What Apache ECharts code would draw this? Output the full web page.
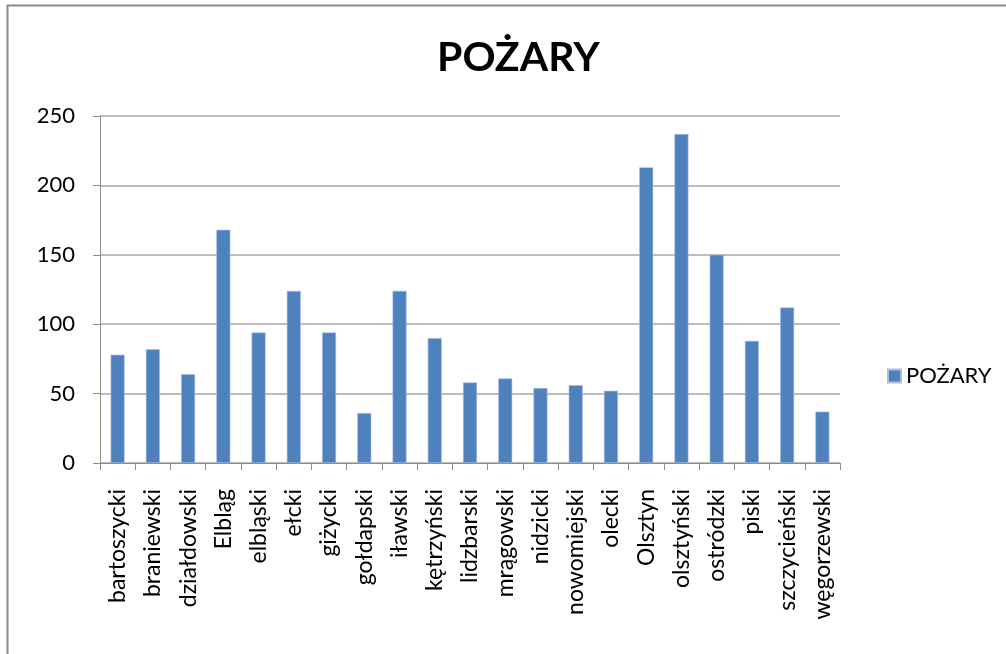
<!DOCTYPE html>
<html>
<head>
<meta charset="utf-8">
<script src="https://cdn.jsdelivr.net/npm/echarts@6/dist/echarts.min.js"></script>
<style>html,body{margin:0;padding:0;background:#fff}#c{width:1006px;height:654px}</style>
</head>
<body>
<div id="c"></div>
<script>
const titleText = 'POŻARY';
const seriesName = 'POŻARY';
const categories = ['bartoszycki','braniewski','działdowski','Elbląg','elbląski','ełcki','giżycki','gołdapski','iławski','kętrzyński','lidzbarski','mrągowski','nidzicki','nowomiejski','olecki','Olsztyn','olsztyński','ostródzki','piski','szczycieński','węgorzewski'];
const values = [78, 82, 64, 168, 94, 124, 94, 36, 124, 90, 58, 61, 54, 56, 52, 213, 237, 150, 88, 112, 37];
const yMin = 0, yMax = 250, yStep = 50;

const chart = echarts.init(document.getElementById('c'), null, {renderer: 'canvas'});
const font = 'Lato';
chart.setOption({
  animation: false,
  backgroundColor: '#fff',
  graphic: [{
    type: 'rect', left: 5, top: 3,
    shape: {width: 1010, height: 660},
    style: {fill: 'none', stroke: '#8a8a8a', lineWidth: 2}
  }],
  title: {
    text: titleText, left: 432, top: 32,
    textStyle: {fontFamily: font, fontWeight: 'bold', fontSize: 41, color: '#000'}
  },
  legend: {
    data: [seriesName], left: 882, top: 360, orient: 'vertical',
    itemWidth: 13, itemHeight: 13, itemGap: 8,
    icon: 'rect',
    textStyle: {fontFamily: font, fontSize: 22, color: '#000'}
  },
  grid: {left: 100, top: 116, width: 740, height: 347, containLabel: false},
  xAxis: {
    type: 'category', data: categories,
    axisLine: {lineStyle: {color: '#8c8c8c', width: 1}},
    axisTick: {show: true, length: 7, alignWithLabel: false, lineStyle: {color: '#8c8c8c'}},
    axisLabel: {rotate: 90, margin: 26, fontFamily: font, fontSize: 23, color: '#000', interval: 0}
  },
  yAxis: {
    type: 'value', min: yMin, max: yMax, interval: yStep,
    axisLine: {show: true, lineStyle: {color: '#8c8c8c', width: 1}},
    axisTick: {show: true, length: 7, lineStyle: {color: '#8c8c8c'}},
    splitLine: {lineStyle: {color: '#a6a6a6', width: 1.5}},
    axisLabel: {margin: 25, fontFamily: font, fontSize: 22, color: '#000'}
  },
  series: [{
    name: seriesName, type: 'bar', data: values, barWidth: 14,
    itemStyle: {color: '#4f81bd', borderColor: '#a9c0e0', borderWidth: 0.6}
  }]
});
</script>
</body>
</html>
